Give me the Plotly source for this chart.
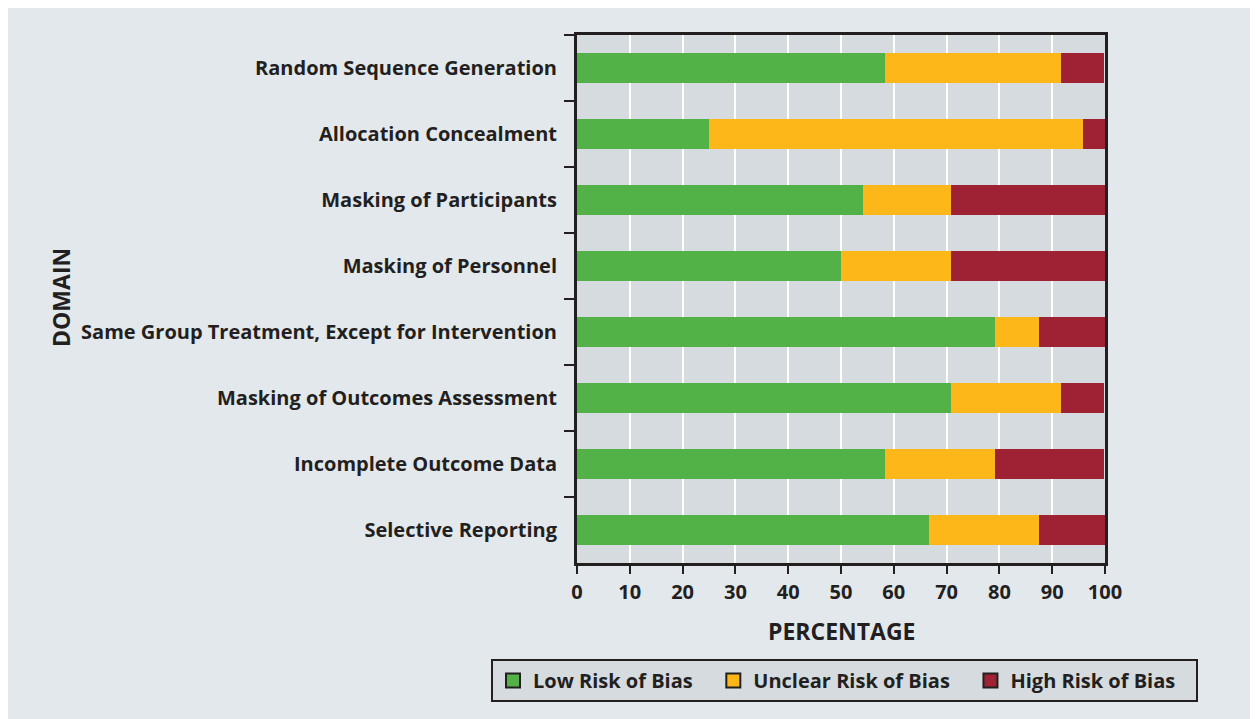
import plotly.graph_objects as go

domains = [
    "Random Sequence Generation",
    "Allocation Concealment",
    "Masking of Participants",
    "Masking of Personnel",
    "Same Group Treatment, Except for Intervention",
    "Masking of Outcomes Assessment",
    "Incomplete Outcome Data",
    "Selective Reporting",
]
low_risk = [58.3, 25.0, 54.2, 50.0, 79.2, 70.8, 58.3, 66.7]
unclear_risk = [33.3, 70.8, 16.7, 20.8, 8.3, 20.8, 20.8, 20.8]
high_risk = [8.3, 4.2, 29.2, 29.2, 12.5, 8.3, 20.8, 12.5]
x_ticks = [0, 10, 20, 30, 40, 50, 60, 70, 80, 90, 100]

series = [
    ("Low Risk of Bias", low_risk, "#52b247"),
    ("Unclear Risk of Bias", unclear_risk, "#fdb719"),
    ("High Risk of Bias", high_risk, "#9e2233"),
]

DARK = "#231f20"
FONT = "Open Sans"
PAD = "\u00a0\u00a0\u00a0"  # legend entry spacing

fig = go.Figure()
for name, vals, color in series:
    fig.add_trace(go.Bar(
        y=domains, x=vals, orientation="h", name=name,
        marker=dict(color=color, line=dict(width=0)),
        width=0.44, showlegend=False,
    ))
for name, vals, color in series:
    fig.add_trace(go.Scatter(
        x=[None], y=[None], mode="markers", name=name + PAD,
        marker=dict(symbol="square", size=14, color=color,
                    line=dict(color=DARK, width=2)),
    ))

OFF = 8  # page body margin
W, H = 1245, 711
L, R, T, B = 577 - OFF, 1105 - OFF, 35 - OFF, 563 - OFF
pw, ph = R - L, B - T

def px(xp):
    return (xp - OFF - L) / pw

def py(yp):
    return (B - (yp - OFF)) / ph

fig.update_layout(
    width=W, height=H,
    margin=dict(l=L, r=W - R, t=T, b=H - B),
    barmode="stack",
    paper_bgcolor="#e3e8ec",
    plot_bgcolor="#d5dbdf",
    font=dict(family=FONT, color=DARK, size=20),
    xaxis=dict(
        range=[0, 100], tickvals=x_ticks, ticktext=[str(v) for v in x_ticks],
        showgrid=True, gridcolor="white", gridwidth=2,
        showline=True, linecolor=DARK, linewidth=3, mirror=True,
        ticks="outside", ticklen=8, tickwidth=2, tickcolor=DARK,
        tickfont=dict(family=FONT, size=20, color=DARK, weight="bold"),
        ticklabelstandoff=1,
        zeroline=False, fixedrange=True,
    ),
    yaxis=dict(
        autorange="reversed", categoryorder="array", categoryarray=domains,
        showgrid=False,
        showline=True, linecolor=DARK, linewidth=3, mirror=True,
        ticks="outside", tickson="boundaries", ticklen=10, tickwidth=2,
        tickcolor=DARK,
        tickfont=dict(family=FONT, size=20, color=DARK, weight="bold"),
        ticklabelstandoff=13,
        fixedrange=True,
    ),
    legend=dict(
        orientation="h", traceorder="normal",
        xanchor="left", yanchor="top",
        x=px(491), y=py(659),
        bgcolor="#d5dbdf", bordercolor=DARK, borderwidth=2,
        font=dict(family=FONT, size=20, color=DARK, weight="bold"),
        itemclick=False, itemdoubleclick=False,
    ),
    annotations=[
        dict(text="PERCENTAGE", xref="paper", yref="paper",
             x=px(841), y=py(631), xanchor="center", yanchor="middle",
             showarrow=False,
             font=dict(family=FONT, size=23, color=DARK, weight="bold")),
        dict(text="DOMAIN", xref="paper", yref="paper",
             x=px(61), y=py(298), xanchor="center", yanchor="middle",
             textangle=-90, showarrow=False,
             font=dict(family=FONT, size=23, color=DARK, weight="bold")),
    ],
)

fig.write_html("out.html")
